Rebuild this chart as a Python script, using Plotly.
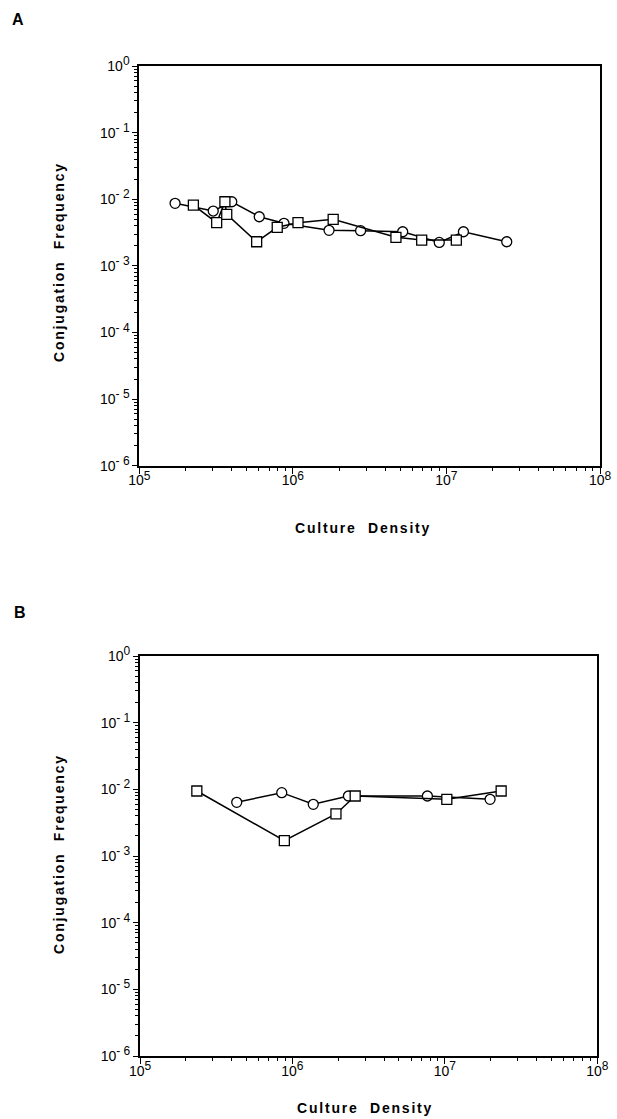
import plotly.graph_objects as go

# ---------------- data ----------------
# Panel A
a_circle_x = [1.71e5, 3.03e5, 4.00e5, 6.04e5, 8.75e5, 1.72e6, 2.76e6, 5.19e6, 8.98e6, 1.29e7, 2.47e7]
a_circle_y = [8.67e-3, 6.65e-3, 9.17e-3, 5.46e-3, 4.35e-3, 3.41e-3, 3.37e-3, 3.25e-3, 2.25e-3, 3.25e-3, 2.30e-3]
a_square_x = [2.25e5, 3.19e5, 3.61e5, 3.71e5, 5.81e5, 7.91e5, 1.08e6, 1.83e6, 4.69e6, 6.90e6, 1.16e7]
a_square_y = [8.18e-3, 4.44e-3, 9.17e-3, 5.93e-3, 2.30e-3, 3.79e-3, 4.44e-3, 4.99e-3, 2.68e-3, 2.44e-3, 2.44e-3]
# Panel B
b_circle_x = [4.31e5, 8.51e5, 1.37e6, 2.33e6, 7.68e6, 1.98e7]
b_circle_y = [6.39e-3, 8.91e-3, 5.96e-3, 7.94e-3, 7.94e-3, 7.08e-3]
b_square_x = [2.36e5, 8.85e5, 1.93e6, 2.58e6, 1.03e7, 2.34e7]
b_square_y = [9.44e-3, 1.70e-3, 4.27e-3, 7.94e-3, 7.08e-3, 9.44e-3]

x_tickvals = [1e5, 1e6, 1e7, 1e8]
x_exponents = ["5", "6", "7", "8"]
y_tickvals = [1e0, 1e-1, 1e-2, 1e-3, 1e-4, 1e-5, 1e-6]
y_exponents = ["0", "- 1", "- 2", "- 3", "- 4", "- 5", "- 6"]
x_minor = [m * 10 ** e for e in range(5, 8) for m in range(2, 10)]
y_minor = [m * 10.0 ** e for e in range(-6, 0) for m in range(2, 10)]

panel_labels = ["A", "B"]
x_title = "Culture\u00a0\u00a0Density"
y_title = "Conjugation\u00a0\u00a0Frequency"

SUP = "10<sup><span style='font-size:12px'>%s</span></sup>"
x_ticktext = [SUP % e for e in x_exponents]
y_ticktext = [SUP % e for e in y_exponents]

W, H = 617, 1119
FONT = "Liberation Sans, Arial, Helvetica, sans-serif"

fig = go.Figure()

def add_series(xs, ys, symbol, xa, ya, size):
    fig.add_trace(go.Scatter(
        x=xs, y=ys, mode="lines+markers", xaxis=xa, yaxis=ya,
        line=dict(color="black", width=1.5),
        marker=dict(symbol=symbol, size=size, color="white",
                    line=dict(color="black", width=1.3)),
        showlegend=False, cliponaxis=False))

add_series(a_circle_x, a_circle_y, "circle", "x", "y", 10)
add_series(a_square_x, a_square_y, "square", "x", "y", 10)
add_series(b_circle_x, b_circle_y, "circle", "x2", "y2", 10)
add_series(b_square_x, b_square_y, "square", "x2", "y2", 10)

def xaxis_cfg(domain, anchor):
    return dict(type="log", domain=domain, anchor=anchor, range=[5, 8],
                tickvals=x_tickvals, ticktext=x_ticktext, automargin=False,
                ticks="outside", ticklen=6, tickwidth=1.3, tickcolor="black",
                ticklabelstandoff=-5,
                minor=dict(tickvals=x_minor, ticks="outside", ticklen=3,
                           tickwidth=1.2, tickcolor="black", showgrid=False),
                showline=True, linecolor="black", linewidth=1.8, mirror=True,
                showgrid=False, zeroline=False,
                tickfont=dict(family=FONT, size=14, color="black"))

def yaxis_cfg(domain, anchor):
    return dict(type="log", domain=domain, anchor=anchor, range=[-6, 0],
                tickvals=y_tickvals, ticktext=y_ticktext, automargin=False,
                ticks="outside", ticklen=5, tickwidth=1.3, tickcolor="black",
                minor=dict(tickvals=y_minor, ticks="outside", ticklen=3,
                           tickwidth=1.2, tickcolor="black", showgrid=False),
                showline=True, linecolor="black", linewidth=1.8, mirror=True,
                showgrid=False, zeroline=False,
                tickfont=dict(family=FONT, size=14, color="black"))

fig.update_layout(
    width=W, height=H, margin=dict(l=0, r=0, t=0, b=0, autoexpand=False),
    paper_bgcolor="white", plot_bgcolor="white",
    xaxis=xaxis_cfg([139.3 / W, 600 / W], "y"),
    yaxis=yaxis_cfg([1 - 465.7 / H, 1 - 66 / H], "x"),
    xaxis2=xaxis_cfg([140 / W, 597.3 / W], "y2"),
    yaxis2=yaxis_cfg([1 - 1056 / H, 1 - 656 / H], "x2"),
)

SPACED = "<span style='letter-spacing:1.8px'><b>%s</b></span>"
annotations = []
# panel letters
for lab, (px, py) in zip(panel_labels, [(18, 19), (20, 612)]):
    annotations.append(dict(text="<b>%s</b>" % lab, x=px / W, y=1 - py / H, xref="paper", yref="paper",
                            showarrow=False, xanchor="center", yanchor="middle",
                            font=dict(family=FONT, size=16, color="black")))
# axis titles
for (xc, yc) in [(363, 528), (365, 1108)]:
    annotations.append(dict(text=SPACED % x_title, x=xc / W, y=1 - yc / H, xref="paper", yref="paper",
                            showarrow=False, xanchor="center", yanchor="middle",
                            font=dict(family=FONT, size=14, color="black")))
for (xc, yc) in [(59, 262), (59, 854)]:
    annotations.append(dict(text=SPACED % y_title, x=xc / W, y=1 - yc / H, xref="paper", yref="paper",
                            showarrow=False, xanchor="center", yanchor="middle", textangle=-90,
                            font=dict(family=FONT, size=14, color="black")))
fig.update_layout(annotations=annotations)

fig.write_html("out.html")
